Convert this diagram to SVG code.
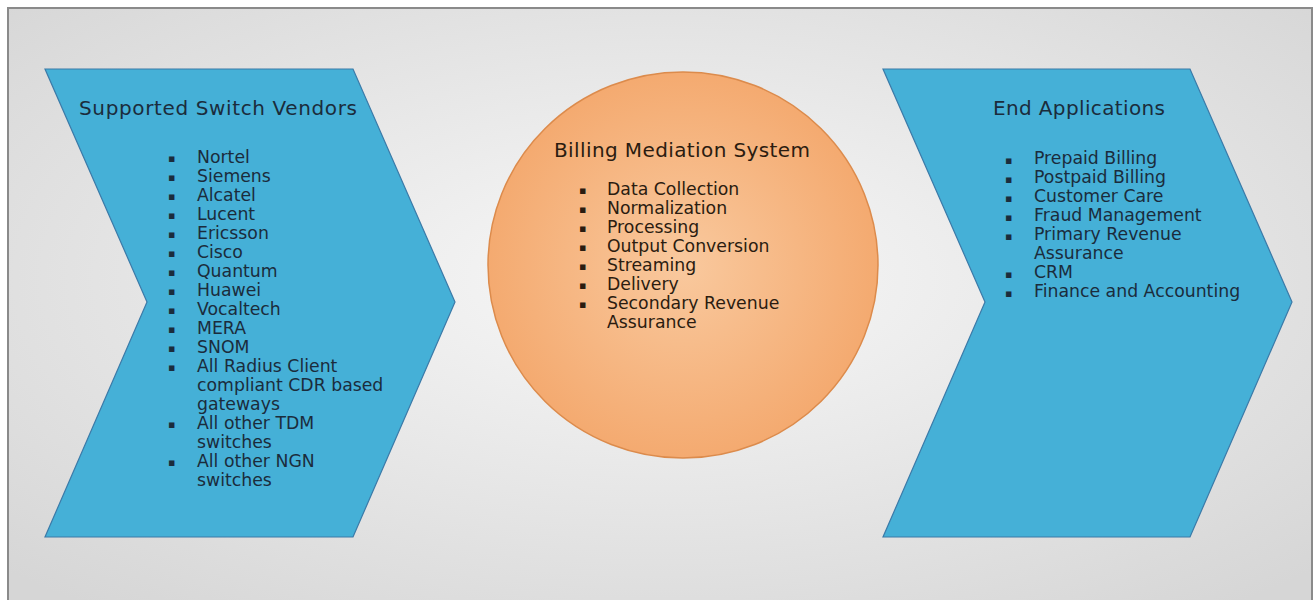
<svg xmlns="http://www.w3.org/2000/svg" width="1315" height="600" viewBox="0 0 1315 600">
  <defs>
    <radialGradient id="bg" cx="0.5" cy="0.45" r="0.7">
      <stop offset="0" stop-color="#f8f8f8"/>
      <stop offset="1" stop-color="#d6d6d6"/>
    </radialGradient>
    <radialGradient id="orb" cx="0.5" cy="0.5" r="0.5">
      <stop offset="0" stop-color="#f9c99e"/>
      <stop offset="1" stop-color="#f4aa70"/>
    </radialGradient>
  </defs>
  <style>
    .chev { fill: #45b0d7; stroke: #3b7aa8; stroke-width: 1.2; }
    .orb { fill: url(#orb); stroke: #dc8b4c; stroke-width: 1.5; }
    .t { font-family: "DejaVu Sans", Verdana, sans-serif; font-size: 17.3px; }
    .h { font-family: "DejaVu Sans", Verdana, sans-serif; font-size: 20px; }
    .blue { fill: #1b2c3c; }
    .brown { fill: #2b1c10; }
    .b { font-size: 11px; }
  </style>

  <!-- frame -->
  <rect x="8" y="8" width="1304" height="600" fill="url(#bg)" stroke="#8a8a8a" stroke-width="2"/>

  <!-- left chevron: vendors -->
  <g id="vendors">
    <polygon class="chev" points="45,69 353,69 455,302 353,537 45,537 147,302"/>
    <text class="h blue" x="79" y="115" textLength="278" lengthAdjust="spacing">Supported Switch Vendors</text>
    <g class="t blue">
      <text x="168" y="162"><tspan class="b">▪</tspan></text>
      <text x="168" y="181"><tspan class="b">▪</tspan></text>
      <text x="168" y="200"><tspan class="b">▪</tspan></text>
      <text x="168" y="219"><tspan class="b">▪</tspan></text>
      <text x="168" y="238"><tspan class="b">▪</tspan></text>
      <text x="168" y="257"><tspan class="b">▪</tspan></text>
      <text x="168" y="276"><tspan class="b">▪</tspan></text>
      <text x="168" y="295"><tspan class="b">▪</tspan></text>
      <text x="168" y="314"><tspan class="b">▪</tspan></text>
      <text x="168" y="333"><tspan class="b">▪</tspan></text>
      <text x="168" y="352"><tspan class="b">▪</tspan></text>
      <text x="168" y="371"><tspan class="b">▪</tspan></text>
      <text x="168" y="428"><tspan class="b">▪</tspan></text>
      <text x="168" y="466"><tspan class="b">▪</tspan></text>
      <text x="197" y="163">Nortel</text>
      <text x="197" y="182">Siemens</text>
      <text x="197" y="201">Alcatel</text>
      <text x="197" y="220">Lucent</text>
      <text x="197" y="239">Ericsson</text>
      <text x="197" y="258">Cisco</text>
      <text x="197" y="277">Quantum</text>
      <text x="197" y="296">Huawei</text>
      <text x="197" y="315">Vocaltech</text>
      <text x="197" y="334">MERA</text>
      <text x="197" y="353">SNOM</text>
      <text x="197" y="372">All Radius Client</text>
      <text x="197" y="391">compliant CDR based</text>
      <text x="197" y="410">gateways</text>
      <text x="197" y="429">All other TDM</text>
      <text x="197" y="448">switches</text>
      <text x="197" y="467">All other NGN</text>
      <text x="197" y="486">switches</text>
    </g>
  </g>

  <!-- centre circle: mediation system -->
  <g id="mediation">
    <ellipse class="orb" cx="683" cy="265" rx="195" ry="193"/>
    <text class="h brown" x="554" y="157" textLength="256" lengthAdjust="spacing">Billing Mediation System</text>
    <g class="t brown">
      <text x="579" y="194"><tspan class="b">▪</tspan></text>
      <text x="579" y="213"><tspan class="b">▪</tspan></text>
      <text x="579" y="232"><tspan class="b">▪</tspan></text>
      <text x="579" y="251"><tspan class="b">▪</tspan></text>
      <text x="579" y="270"><tspan class="b">▪</tspan></text>
      <text x="579" y="289"><tspan class="b">▪</tspan></text>
      <text x="579" y="308"><tspan class="b">▪</tspan></text>
      <text x="607" y="195">Data Collection</text>
      <text x="607" y="214">Normalization</text>
      <text x="607" y="233">Processing</text>
      <text x="607" y="252">Output Conversion</text>
      <text x="607" y="271">Streaming</text>
      <text x="607" y="290">Delivery</text>
      <text x="607" y="309">Secondary Revenue</text>
      <text x="607" y="328">Assurance</text>
    </g>
  </g>

  <!-- right chevron: end applications -->
  <g id="applications">
    <polygon class="chev" points="883,69 1190,69 1292,302 1190,537 883,537 985,302"/>
    <text class="h blue" x="993" y="115" textLength="172" lengthAdjust="spacing">End Applications</text>
    <g class="t blue">
      <text x="1005" y="164"><tspan class="b">▪</tspan></text>
      <text x="1005" y="183"><tspan class="b">▪</tspan></text>
      <text x="1005" y="202"><tspan class="b">▪</tspan></text>
      <text x="1005" y="221"><tspan class="b">▪</tspan></text>
      <text x="1005" y="240"><tspan class="b">▪</tspan></text>
      <text x="1005" y="278"><tspan class="b">▪</tspan></text>
      <text x="1005" y="297"><tspan class="b">▪</tspan></text>
      <text x="1034" y="164">Prepaid Billing</text>
      <text x="1034" y="183">Postpaid Billing</text>
      <text x="1034" y="202">Customer Care</text>
      <text x="1034" y="221">Fraud Management</text>
      <text x="1034" y="240">Primary Revenue</text>
      <text x="1034" y="259">Assurance</text>
      <text x="1034" y="278">CRM</text>
      <text x="1034" y="297">Finance and Accounting</text>
    </g>
  </g>
</svg>
